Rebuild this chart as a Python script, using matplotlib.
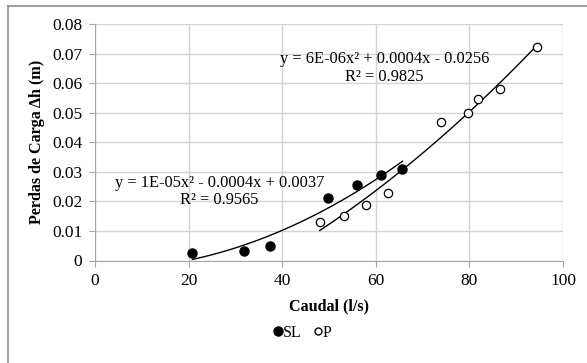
import matplotlib.pyplot as plt
import numpy as np
from matplotlib.lines import Line2D

plt.rcParams['font.family'] = ['Liberation Serif', 'DejaVu Serif']

# dados
sl_q = [20.8, 31.8, 37.4, 49.7, 55.9, 61.1, 65.7]
sl_h = [0.0024, 0.0032, 0.0048, 0.0213, 0.0254, 0.0289, 0.0311]
p_q = [48.0, 53.3, 58.0, 62.6, 74.0, 79.6, 81.8, 86.6, 94.5]
p_h = [0.0131, 0.0150, 0.0187, 0.0230, 0.0468, 0.0500, 0.0547, 0.0580, 0.0723]

eq_sl = 'y = 1E-05x² - 0.0004x + 0.0037\nR² = 0.9565'
eq_p = 'y = 6E-06x² + 0.0004x - 0.0256\nR² = 0.9825'

W, H = 587, 363
fig = plt.figure(figsize=(W / 100, H / 100), dpi=100)
ax = fig.add_axes([95 / W, 1 - 260.5 / H, 468 / W, 236.5 / H])

# moldura do gráfico
fig.add_artist(Line2D([8 / W, 8 / W], [0, 1 - 6 / H], transform=fig.transFigure,
                      color='#8c8c8c', lw=1.2))
fig.add_artist(Line2D([8 / W, 1], [1 - 6 / H, 1 - 6 / H], transform=fig.transFigure,
                      color='#8c8c8c', lw=1.2))

# linhas de tendência (polinomial de 2ª ordem)
for q, h in [(sl_q, sl_h), (p_q, p_h)]:
    c = np.polyfit(q, h, 2)
    xs = np.linspace(min(q), max(q), 100)
    ax.plot(xs, np.polyval(c, xs), color='black', lw=1, zorder=3)

ax.plot(sl_q, sl_h, 'o', ms=6.5, color='black', zorder=4)
ax.plot(p_q, p_h, 'o', ms=6, mfc='white', mec='black', mew=0.9, zorder=4)

ax.text(26.6, 0.0234, eq_sl, ha='center', va='center', fontsize=11.8, linespacing=1.1, zorder=5)
ax.text(61.8, 0.0651, eq_p, ha='center', va='center', fontsize=11.8, linespacing=1.1, zorder=5)

ax.set_xlim(0, 100)
ax.set_ylim(0, 0.08)
ax.set_xticks(range(0, 101, 20))
ax.set_yticks(np.arange(0, 0.081, 0.01))
ax.set_yticklabels(['0'] + ['%.2f' % v for v in np.arange(0.01, 0.081, 0.01)])
ax.grid(True, color='#d4d4d4', lw=1)
ax.set_axisbelow(True)
for s in ['top', 'right']:
    ax.spines[s].set_visible(False)
for s in ['left', 'bottom']:
    ax.spines[s].set_color('#a6a6a6')
ax.tick_params(length=4, color='#a6a6a6', labelsize=12.5, pad=5)

ax.set_xlabel('Caudal (l/s)', fontsize=11.6, fontweight='bold', labelpad=7)
ax.set_ylabel('Perdas de Carga Δh (m)', fontsize=11.6, fontweight='bold', labelpad=5)

handles = [Line2D([], [], marker='o', ls='', color='black', ms=6.5),
           Line2D([], [], marker='o', ls='', mfc='white', mec='black', ms=5)]
fig.legend(handles, ['SL', 'P'], loc='center', bbox_to_anchor=(301 / W, 1 - 333 / H),
           ncol=2, frameon=False, fontsize=11.5, handletextpad=-0.2, columnspacing=0.5,
           handlelength=1.0)

fig.savefig('out.png', dpi=100)
